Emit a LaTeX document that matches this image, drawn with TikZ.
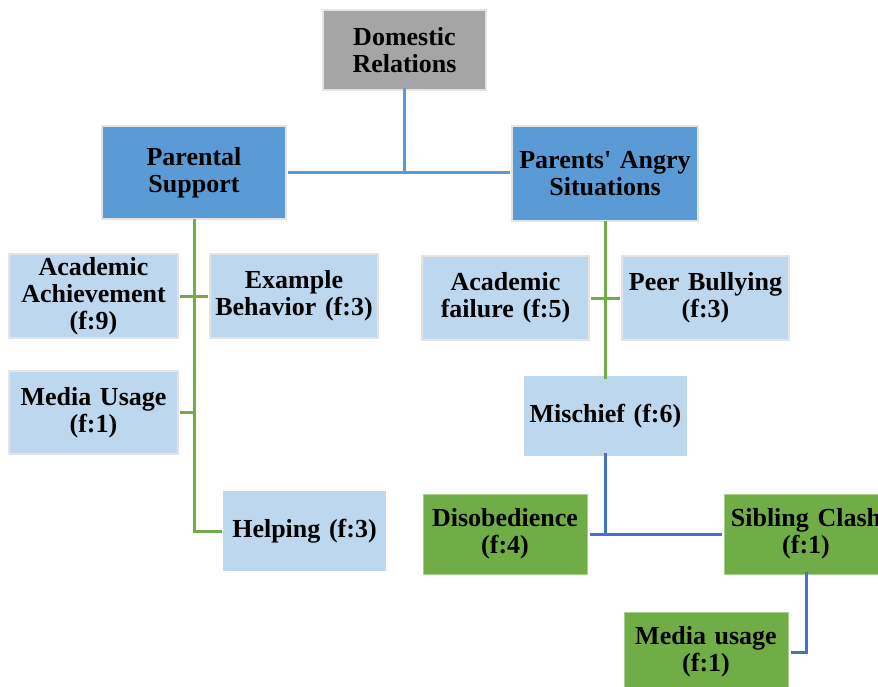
\documentclass[tikz,border=0pt]{standalone}
\usepackage{fontspec}
\setmainfont{Liberation Serif}
\definecolor{grayfill}{HTML}{A5A5A5}
\definecolor{bluefill}{HTML}{5B9BD5}
\definecolor{lightfill}{HTML}{BDD7EE}
\definecolor{greenfill}{HTML}{70AD47}
\definecolor{darkblue}{HTML}{4472C4}
\definecolor{rim}{HTML}{E4E4E4}
\begin{document}
\begin{tikzpicture}[x=1pt,y=-1pt,
  box/.style={inner sep=0pt, align=center, font=\fontsize{26}{27}\selectfont\bfseries, text=black},
  rimmed/.style={draw=rim, line width=2.2pt},
  topline/.style={draw=bluefill, line width=3pt},
  grline/.style={draw=greenfill, line width=3pt},
  dbline/.style={draw=darkblue, line width=3pt}]
\useasboundingbox (0,0) rectangle (878,686);
\clip (0,0) rectangle (878,686);
% nodes
\node[box, rimmed, fill=grayfill, minimum width=163, minimum height=80, text width=158] (dom) at (404.5,50) {Domestic\\Relations};
\node[box, rimmed, fill=bluefill, minimum width=184, minimum height=93, text width=178] (ps) at (194,172.5) {Parental\\Support};
\node[box, rimmed, fill=bluefill, minimum width=186, minimum height=95, text width=182] (pas) at (605,173.5) {Parents\textquotesingle{} Angry\\Situations};
\node[box, rimmed, fill=lightfill, minimum width=169, minimum height=84, text width=166] (aa) at (93.5,296) {Academic\\Achievement\\(f:9)};
\node[box, rimmed, fill=lightfill, minimum width=168, minimum height=84, text width=166] (eb) at (294,296) {Example\\Behavior (f:3)};
\node[box, rimmed, fill=lightfill, minimum width=169, minimum height=83, text width=166] (mu) at (93.5,412.5) {Media Usage\\(f:1)};
\node[box, fill=lightfill, minimum width=163, minimum height=80, text width=160] (help) at (304.5,531) {Helping (f:3)};
\node[box, rimmed, fill=lightfill, minimum width=167, minimum height=84, text width=164] (af) at (505.5,298) {Academic\\failure (f:5)};
\node[box, rimmed, fill=lightfill, minimum width=167, minimum height=84, text width=166] (pb) at (705.5,298) {Peer Bullying\\(f:3)};
\node[box, fill=lightfill, minimum width=163, minimum height=80, text width=160] (mis) at (605.5,416) {Mischief (f:6)};
\node[box, fill=greenfill, draw=greenfill!60!white, line width=1pt, minimum width=164, minimum height=80, text width=160] (dis) at (505,534) {Disobedience\\(f:4)};
\node[box, fill=greenfill, draw=greenfill!60!white, line width=1pt, minimum width=164, minimum height=80, text width=164] (sc) at (806,534) {Sibling Clash\\(f:1)};
\node[box, fill=greenfill, draw=greenfill!60!white, line width=1pt, minimum width=164, minimum height=80, text width=160] (mu2) at (706,652) {Media usage\\(f:1)};
% connectors
\draw[topline] ([yshift=3]dom.south) -- (dom.south |- ps.east);
\draw[topline] ([xshift=1]ps.east) -- ([xshift=-1]pas.west |- ps.east);
\draw[grline] ([yshift=1]ps.south) -- (ps.south |- help.west) -- ([xshift=-1]help.west);
\draw[grline] ([xshift=1]aa.east) -- ([xshift=-1]eb.west);
\draw[grline] ([xshift=1]mu.east) -- (mu.east -| ps.south);
\draw[grline] ([yshift=1]pas.south) -- ([yshift=-3]pas.south |- mis.north);
\draw[grline] ([xshift=1]af.east) -- ([xshift=-1]pb.west);
\draw[dbline] ([yshift=3]mis.south) -- (mis.south |- dis.east);
\draw[dbline] ([xshift=2]dis.east) -- ([xshift=-2]sc.west);
\draw[dbline] ([yshift=3]sc.south) -- (sc.south |- mu2.east) -- ([xshift=2]mu2.east);
\end{tikzpicture}
\end{document}
